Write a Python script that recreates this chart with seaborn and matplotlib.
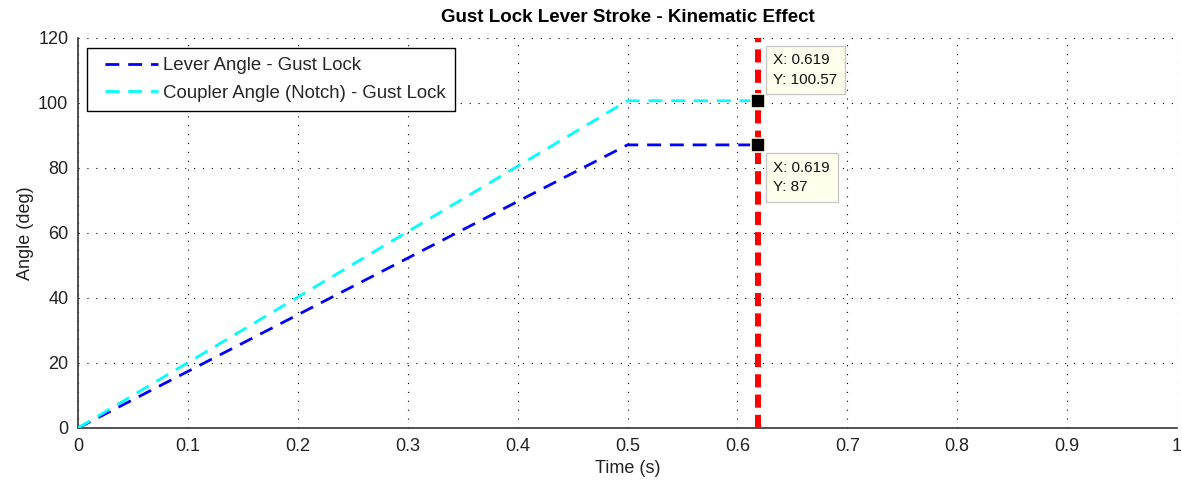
import matplotlib
matplotlib.use("Agg")
import matplotlib.pyplot as plt
import seaborn as sns
import pandas as pd

# ---- data ----
time_s = [0.0, 0.5, 0.619]
lever_angle = [0.0, 87.0, 87.0]
coupler_angle = [0.0, 100.57, 100.57]
cursor_x = 0.619
tip_values = [100.57, 87.0]
x_ticks = [0, 0.1, 0.2, 0.3, 0.4, 0.5, 0.6, 0.7, 0.8, 0.9, 1]
x_tick_labels = ["0", "0.1", "0.2", "0.3", "0.4", "0.5", "0.6", "0.7", "0.8", "0.9", "1"]
y_ticks = [0, 20, 40, 60, 80, 100, 120]
series_names = ["Lever Angle - Gust Lock", "Coupler Angle (Notch) - Gust Lock"]

sns.set_style("white")
plt.rcParams["font.family"] = ["Liberation Sans", "DejaVu Sans"]
plt.rcParams["lines.scale_dashes"] = True

W, H = 1182, 482
AX_W = 1099.0
fig = plt.figure(figsize=(W / 100, H / 100), dpi=100)
ax = fig.add_axes([78 / W, 54 / H, AX_W / W, 390.5 / H])

df = pd.DataFrame({"t": time_s, "lever": lever_angle, "coupler": coupler_angle})
sns.lineplot(data=df, x="t", y="lever", ax=ax, color="#0000FF", lw=2.0,
             label=series_names[0], zorder=3)
sns.lineplot(data=df, x="t", y="coupler", ax=ax, color="#00FFFF", lw=2.0,
             label=series_names[1], zorder=3)
for ln in ax.lines[:2]:
    ln.set_linestyle((0, (5, 3.2)))

# red vertical cursor
ax.axvline(cursor_x, color="#FF0000", lw=4.3, linestyle=(0, (2.2, 1.2)), zorder=4)

# data-tip markers
mk = pd.DataFrame({"x": [cursor_x] * len(tip_values), "y": tip_values})
sns.scatterplot(data=mk, x="x", y="y", ax=ax, marker="s", s=95, color="black",
                edgecolor="#FFFFE0", linewidth=1.2, zorder=6, legend=False)

ax.set_xlim(0, 1)
ax.set_ylim(0, 120)
ax.set_xticks(x_ticks)
ax.set_xticklabels(x_tick_labels)
ax.set_yticks(y_ticks)

ax.grid(True, color="black", lw=0.8, linestyle=(0, (1, 7)))
ax.set_axisbelow(True)
for s in ["top", "right"]:
    ax.spines[s].set_visible(False)
for s in ["left", "bottom"]:
    ax.spines[s].set_color("#333333")
    ax.spines[s].set_linewidth(1.2)
ax.tick_params(direction="in", length=8, width=1, colors="#333333",
               labelcolor="#222222", labelsize=13, pad=7)

ax.set_xlabel("Time (s)", fontsize=13, color="#222222", labelpad=4)
ax.set_ylabel("Angle (deg)", fontsize=13, color="#222222", labelpad=3)
ax.set_title("Gust Lock Lever Stroke - Kinematic Effect", fontsize=13.5,
             fontweight="bold", color="black", pad=11)

# data tips
bbox = dict(boxstyle="square,pad=0.5", fc="#FFFFEE", ec="#C8C8C8", lw=1)
ax.annotate(f"X: {cursor_x}\nY: {tip_values[0]}", xy=(cursor_x, tip_values[0]),
            xytext=(15, 14), textcoords="offset pixels", ha="left", va="bottom",
            fontsize=11, color="#111111", bbox=bbox, zorder=7, linespacing=1.5)
ax.annotate(f"X: {cursor_x}\nY: {tip_values[1]:g}", xy=(cursor_x, tip_values[1]),
            xytext=(15, -16), textcoords="offset pixels", ha="left", va="top",
            fontsize=11, color="#111111", bbox=bbox, zorder=7, linespacing=1.5)

leg = ax.legend(loc="upper left", bbox_to_anchor=(9 / AX_W, 1 - 10.5 / 390.5),
                borderaxespad=0, fontsize=13.4, frameon=True, fancybox=False,
                framealpha=1, edgecolor="black", borderpad=0.5,
                handlelength=3.3, handletextpad=0.3, labelspacing=0.55)
leg.get_frame().set_linewidth(1.0)
leg.set_zorder(8)
for hl in leg.get_lines():
    hl.set_linestyle((5, (5, 3.2)))

fig.savefig("out.png", dpi=100, facecolor="white")
